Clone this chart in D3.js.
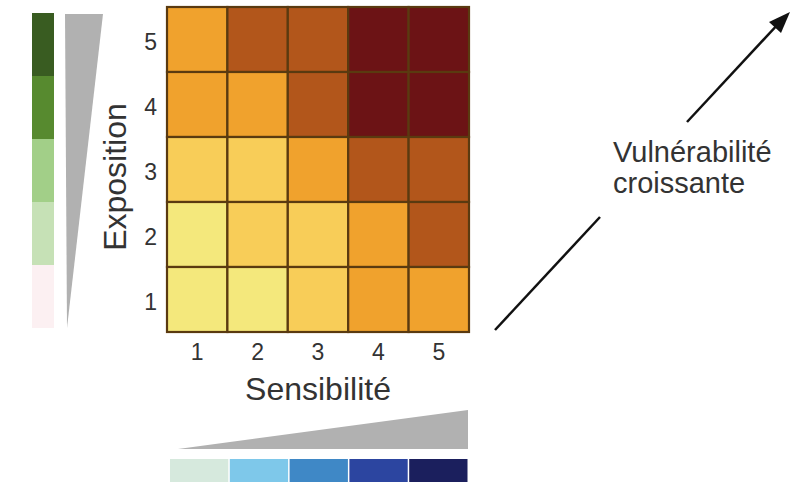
<!DOCTYPE html>
<html>
<head>
<meta charset="utf-8">
<script src="https://cdn.jsdelivr.net/npm/d3@7"></script>
<style>
  body { margin: 0; background: #fff; }
  text { font-family: "Liberation Sans", Arial, sans-serif; fill: #333; }
</style>
</head>
<body>
<div id="chart"></div>
<script>
// Data
const sensibilite = [1, 2, 3, 4, 5];
const exposition = [5, 4, 3, 2, 1];
// vulnerability level per cell, rows from Exposition 5 (top) to 1 (bottom)
const levels = [
  [3, 4, 4, 5, 5],
  [3, 3, 4, 5, 5],
  [2, 2, 3, 4, 4],
  [1, 2, 2, 3, 4],
  [1, 1, 2, 3, 3]
];
const levelColors = ['#f4e87c', '#f8cd58', '#f0a22d', '#b2561b', '#6c1315'];
const greenLegend = ['#395c21', '#578a2f', '#a2cf88', '#c6e1b6', '#fcf0f2'];
const blueLegend = ['#d6e9dd', '#7ec8ea', '#3f88c6', '#2c45a0', '#1b1f5d'];

const width = 800, height = 487;

const svg = d3.select('#chart').append('svg')
  .attr('width', width)
  .attr('height', height);

// Scales for the heatmap
const xScale = d3.scaleBand().domain(sensibilite).range([167, 469]);
const yScale = d3.scaleBand().domain(exposition).range([7, 332]);
const colorScale = d3.scaleOrdinal().domain([1, 2, 3, 4, 5]).range(levelColors);

const cells = [];
exposition.forEach((e, i) => {
  sensibilite.forEach((s, j) => {
    cells.push({ s, e, level: levels[i][j] });
  });
});

svg.append('g').selectAll('.cell')
  .data(cells)
  .join('rect')
  .attr('class', 'cell')
  .attr('x', d => xScale(d.s))
  .attr('y', d => yScale(d.e))
  .attr('width', xScale.bandwidth())
  .attr('height', yScale.bandwidth())
  .attr('fill', d => colorScale(d.level))
  .attr('stroke', '#5a3a10')
  .attr('stroke-width', 2.2);

// Axes
const xAxis = d3.axisBottom(xScale).tickSize(0).tickPadding(12);
const yAxis = d3.axisLeft(yScale).tickSize(0).tickPadding(10);

const xAxisG = svg.append('g').attr('transform', 'translate(0,332)').call(xAxis);
const yAxisG = svg.append('g').attr('transform', 'translate(167,0)').call(yAxis);
[xAxisG, yAxisG].forEach(g => {
  g.select('.domain').remove();
  g.selectAll('text')
    .attr('font-size', 23)
    .attr('font-family', '"Liberation Sans", Arial, sans-serif')
    .attr('fill', '#333');
});
yAxisG.selectAll('text').attr('dy', '0.45em');

// Axis titles
svg.append('text')
  .attr('x', 318)
  .attr('y', 400)
  .attr('text-anchor', 'middle')
  .attr('font-size', 32)
  .text('Sensibilité');

svg.append('text')
  .attr('transform', 'translate(126,177) rotate(-90)')
  .attr('text-anchor', 'middle')
  .attr('font-size', 32)
  .text('Exposition');

// Green legend bar (left)
const greenScale = d3.scaleBand().domain(d3.range(greenLegend.length)).range([13, 328]);
svg.append('g').selectAll('rect')
  .data(greenLegend)
  .join('rect')
  .attr('x', 32)
  .attr('y', (d, i) => greenScale(i))
  .attr('width', 22)
  .attr('height', greenScale.bandwidth())
  .attr('fill', d => d);

// Gray wedge (left)
svg.append('path')
  .attr('d', 'M65,14 L103,14 L67,328 Z')
  .attr('fill', '#b1b1b1');

// Gray wedge (bottom)
svg.append('path')
  .attr('d', 'M178,449 L468,410 L468,449 Z')
  .attr('fill', '#b1b1b1');

// Blue legend bar (bottom)
const blueScale = d3.scaleBand().domain(d3.range(blueLegend.length)).range([170, 469]);
svg.append('g').selectAll('rect')
  .data(blueLegend)
  .join('rect')
  .attr('x', (d, i) => blueScale(i))
  .attr('y', 459)
  .attr('width', blueScale.bandwidth() - 1.5)
  .attr('height', 23)
  .attr('fill', d => d);

// Arrow "Vulnérabilité croissante", split around the label
svg.append('line')
  .attr('x1', 495).attr('y1', 330)
  .attr('x2', 600).attr('y2', 217)
  .attr('stroke', '#111')
  .attr('stroke-width', 2.5);

svg.append('line')
  .attr('x1', 687).attr('y1', 122)
  .attr('x2', 780).attr('y2', 22)
  .attr('stroke', '#111')
  .attr('stroke-width', 2.5);

svg.append('path')
  .attr('d', 'M790,12 L769,22 L781,33 Z')
  .attr('fill', '#111');

const note = svg.append('text')
  .attr('x', 613)
  .attr('font-size', 29);
note.append('tspan').attr('x', 613).attr('y', 162).text('Vulnérabilité');
note.append('tspan').attr('x', 613).attr('y', 193).text('croissante');
</script>
</body>
</html>
